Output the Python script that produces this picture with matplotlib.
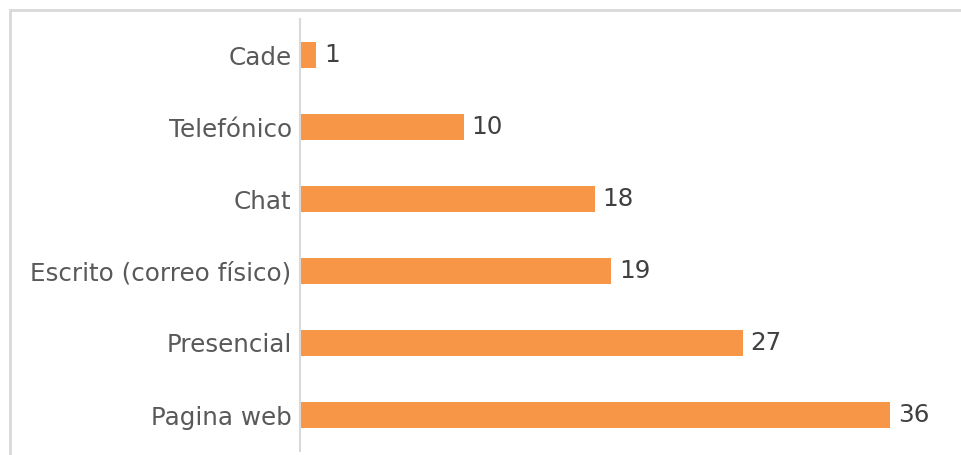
import matplotlib
matplotlib.use('Agg')
import matplotlib.pyplot as plt
from matplotlib.patches import Rectangle

# canales de atención, de arriba hacia abajo
categories = ['Cade', 'Telefónico', 'Chat', 'Escrito (correo físico)', 'Presencial', 'Pagina web']
values = [1, 10, 18, 19, 27, 36]

bar_color = '#F79646'
label_color = '#595959'
value_color = '#404040'
line_color = '#D9D9D9'

fig = plt.figure(figsize=(9.61, 4.55), dpi=100)
ax = fig.add_axes([300 / 961, 4 / 455, 655 / 961, 432 / 455])

# marco exterior del gráfico
fig.patches.append(Rectangle((10 / 961, -0.1), 1.0, (445 / 455) + 0.1, transform=fig.transFigure,
                             fill=False, edgecolor=line_color, linewidth=2))

y = list(range(len(categories)))
ax.barh(y, values, height=0.35, color=bar_color)
ax.set_ylim(len(categories) - 0.5, -0.5)
ax.set_xlim(0, 655 / (590 / 36))

ax.set_yticks(y)
ax.set_yticklabels(categories, fontsize=17.7, color=label_color)
ax.tick_params(axis='y', length=0, pad=6)
ax.set_xticks([])

for side in ['top', 'right', 'bottom']:
    ax.spines[side].set_visible(False)
ax.spines['left'].set_color(line_color)
ax.spines['left'].set_linewidth(1.5)

for yi, v in zip(y, values):
    ax.annotate(str(v), (v, yi), xytext=(5.5, 0), textcoords='offset points',
                va='center', ha='left', fontsize=17.7, color=value_color)

fig.savefig('out.png', dpi=100)
